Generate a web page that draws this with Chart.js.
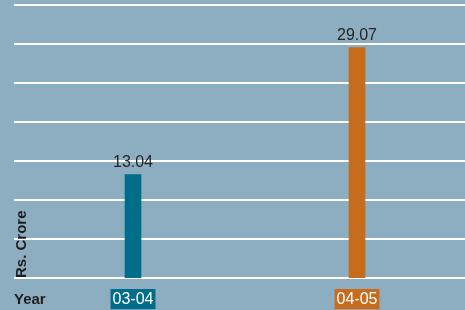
<!DOCTYPE html>
<html>
<head>
<meta charset="utf-8">
<script src="https://cdn.jsdelivr.net/npm/chart.js@4"></script>
<style>
  html, body { margin: 0; padding: 0; background: #8daec1; overflow: hidden; }
  #wrap { width: 465px; height: 310px; position: relative; overflow: hidden; }
</style>
</head>
<body>
<div id="wrap"><canvas id="c" width="469" height="310"></canvas></div>
<script>
const categories = ['03-04', '04-05'];
const values = [13.04, 29.07];
const barColors = ['#006d8b', '#c76c1c'];
const yAxisTitle = 'Rs. Crore';
const xAxisTitle = 'Year';

const FONT = '"Liberation Sans", Arial, Helvetica, sans-serif';

const decor = {
  id: 'decor',
  beforeDatasetsDraw(chart) {
    const ctx = chart.ctx;
    const y = chart.scales.y;
    ctx.save();
    ctx.strokeStyle = '#ffffff';
    ctx.lineWidth = 2;
    y.ticks.forEach(t => {
      const py = Math.round(y.getPixelForValue(t.value));
      ctx.beginPath();
      ctx.moveTo(14, py);
      ctx.lineTo(chart.width, py);
      ctx.stroke();
    });
    ctx.restore();
  },
  afterDatasetsDraw(chart) {
    const ctx = chart.ctx;
    ctx.save();
    const meta = chart.getDatasetMeta(0);
    ctx.fillStyle = '#262626';
    ctx.font = '16px ' + FONT;
    ctx.textAlign = 'center';
    ctx.textBaseline = 'alphabetic';
    meta.data.forEach((bar, i) => {
      ctx.fillText(values[i].toFixed(2), bar.x, bar.y - 8);
    });
    // axis titles
    ctx.fillStyle = '#1e1e1e';
    ctx.font = 'bold 15px ' + FONT;
    ctx.textAlign = 'left';
    ctx.fillText(xAxisTitle, 14, 304);
    ctx.translate(26, 278);
    ctx.rotate(-Math.PI / 2);
    ctx.fillText(yAxisTitle, 0, 0);
    ctx.restore();
  }
};

new Chart(document.getElementById('c'), {
  type: 'bar',
  data: {
    labels: categories,
    datasets: [{
      data: values,
      backgroundColor: barColors,
      barThickness: 16,
      borderWidth: 0
    }]
  },
  options: {
    responsive: false,
    animation: false,
    events: [],
    layout: { padding: { left: 21, right: 0, top: 5, bottom: 0 } },
    plugins: { legend: { display: false }, tooltip: { enabled: false } },
    scales: {
      x: {
        afterFit(scale) { scale.height = 32; },
        grid: { display: false, drawTicks: false },
        border: { display: false },
        ticks: {
          color: '#ffffff',
          font: { size: 16, family: FONT },
          padding: 12,
          showLabelBackdrop: true,
          backdropColor: (c) => barColors[c.index],
          backdropPadding: { top: 1, bottom: 0, left: 2, right: 2 }
        }
      },
      y: {
        display: false,
        min: 0,
        max: 34.44,
        ticks: { count: 8 }
      }
    }
  },
  plugins: [decor]
});
</script>
</body>
</html>
